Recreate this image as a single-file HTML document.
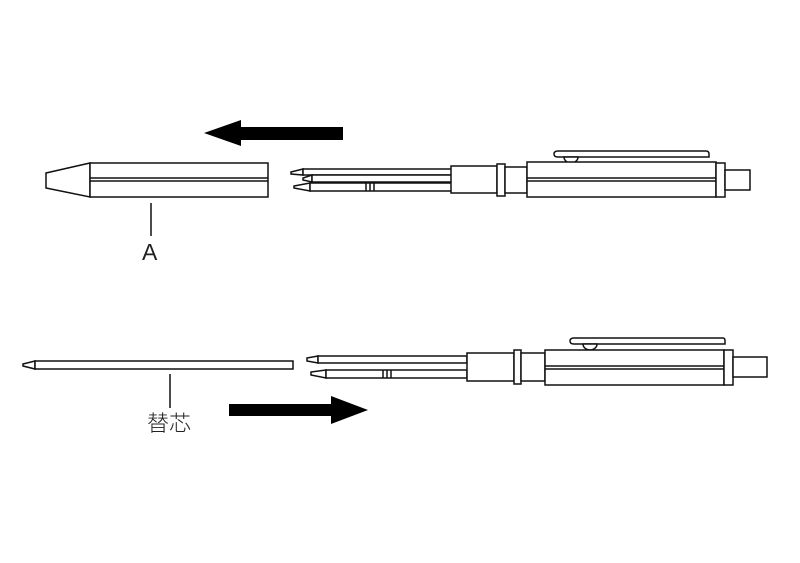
<!DOCTYPE html>
<html><head><meta charset="utf-8"><style>
html,body{margin:0;padding:0;background:#fff;width:800px;height:563px;overflow:hidden}
svg{display:block}
text{font-family:"Liberation Sans","Noto Sans CJK JP",sans-serif;font-weight:300;fill:#222}
</style></head><body>
<svg width="800" height="563" viewBox="0 0 800 563" xmlns="http://www.w3.org/2000/svg">
<g fill="#fff" stroke="#111" stroke-width="1.5">
<polygon points="204,133 241,120 241,127 343,127 343,140 241,140 241,146" fill="#000" stroke="none"/>
<polygon points="46,173 46,188 90,197 90,163"/>
<rect x="90" y="163" width="178" height="34"/>
<line x1="90" y1="178" x2="268" y2="178"/><line x1="90" y1="181" x2="268" y2="181"/>
<line x1="151" y1="203" x2="151" y2="236"/>
<path d="M303,169 L291,172 L291,174 L303,175 Z"/>
<rect x="303" y="169" width="150" height="6"/>
<path d="M312,175 L303,178 L303,180 L312,182 Z"/>
<rect x="312" y="175" width="141" height="7"/>
<path d="M310,183 L294,186 L294,188 L310,191 Z"/>
<rect x="310" y="183" width="143" height="8"/>
<line x1="366" y1="183" x2="366" y2="191"/><line x1="370" y1="183" x2="370" y2="191"/><line x1="374" y1="183" x2="374" y2="191"/>
<path d="M558,151 L706,151 Q709,151 709,154 L709,157 L558,157 Q554,157 554,154 Q554,151 558,151 Z"/>
<path d="M564,157 A7,6 0 0 0 578,157 Z"/>
<rect x="451" y="166" width="46" height="27"/>
<rect x="497" y="164" width="8" height="32"/>
<rect x="505" y="167" width="22" height="26"/>
<rect x="527" y="162" width="189" height="35"/>
<line x1="527" y1="178" x2="716" y2="178"/><line x1="527" y1="181" x2="716" y2="181"/>
<rect x="716" y="163" width="9" height="34"/>
<rect x="725" y="170" width="25" height="20"/>
<path d="M35,361 L23,364 L23,366 L35,369 Z"/>
<rect x="35" y="361" width="258" height="8"/>
<line x1="170" y1="374" x2="170" y2="408"/>
<path d="M318,356 L307,358 L307,361 L318,363 Z"/>
<rect x="318" y="356" width="149" height="7"/>
<path d="M326,370 L311,372 L311,375 L326,378 Z"/>
<rect x="326" y="370" width="141" height="8"/>
<line x1="383" y1="370" x2="383" y2="378"/><line x1="387" y1="370" x2="387" y2="378"/><line x1="391" y1="370" x2="391" y2="378"/>
<path d="M574,338 L723,338 Q725,338 725,341 L725,344 L574,344 Q570,344 570,341 Q570,338 574,338 Z"/>
<path d="M583,344 A7,6 0 0 0 597,344 Z"/>
<rect x="467" y="353" width="47" height="28"/>
<rect x="514" y="350" width="7" height="34"/>
<rect x="521" y="353" width="24" height="28"/>
<rect x="545" y="350" width="179" height="35"/>
<line x1="545" y1="366" x2="724" y2="366"/><line x1="545" y1="369" x2="724" y2="369"/>
<rect x="724" y="350" width="9" height="35"/>
<rect x="733" y="357" width="34" height="20"/>
<polygon points="229,404 331,404 331,396 368,410 331,424 331,416 229,416" fill="#000" stroke="none"/>
</g>
<text x="142" y="260" font-size="23">A</text>
<text x="147" y="431" font-size="22">替芯</text>
</svg>
</body></html>
